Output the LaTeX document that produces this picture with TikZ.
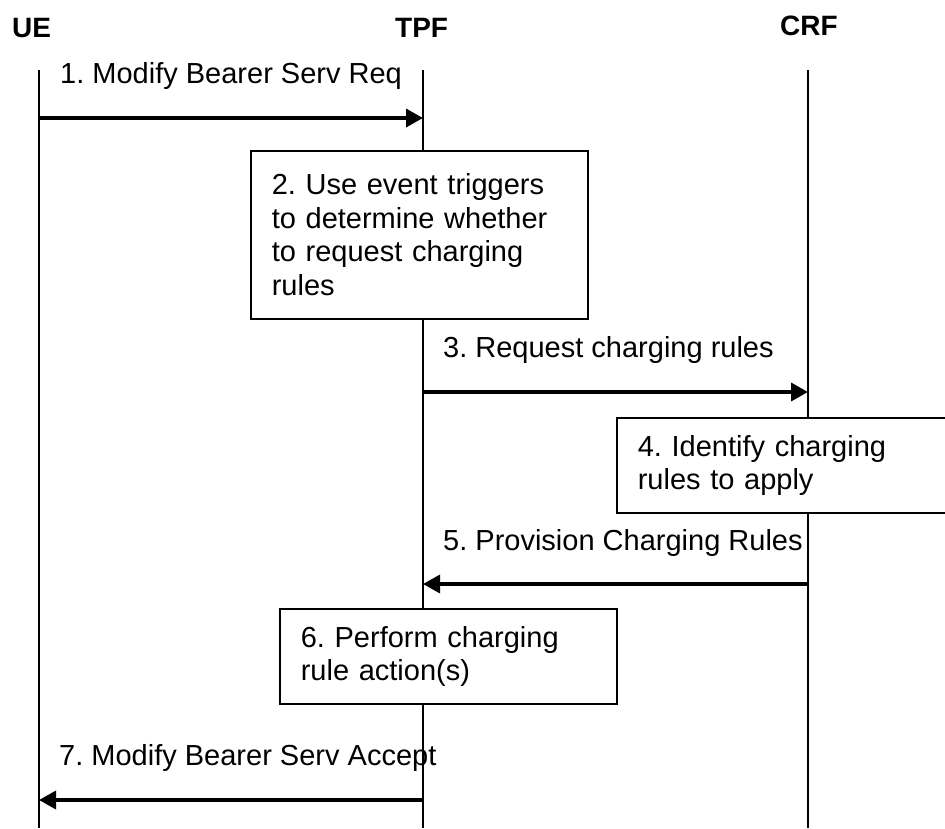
\documentclass[tikz,border=0pt]{standalone}
\usepackage{fontspec}
\setmainfont{Liberation Sans}
\usetikzlibrary{arrows.meta}
\frenchspacing

\begin{document}
\begin{tikzpicture}[x=1pt, y=-1pt,
    entity/.style={anchor=base west, inner sep=0pt, font=\fontsize{28}{32}\selectfont\bfseries},
    msglabel/.style={anchor=base west, inner sep=0pt, font=\fontsize{29}{33}\selectfont},
    lifeline/.style={line width=1.6pt},
    msg/.style={line width=3.4pt, -{Triangle[length=17pt,width=18pt]}},
    stepbox/.style={draw, line width=1.6pt, fill=white, anchor=north west, align=left,
      inner xsep=21pt, inner ysep=0pt, font=\fontsize{29}{33.5}\selectfont}]
      \useasboundingbox (0,0) rectangle (945,828);
      \clip (0,0) rectangle (945,828);

      % Entidades
      \node[entity] (UE) at (12,37) {UE};
      \node[entity] (TPF) at (395,37) {TPF};
      \node[entity] (CRF) at (780,35) {CRF};

      % Linhas de vida
      \coordinate (ue top) at (39,70);
      \coordinate (ue bot) at (39,828);
      \coordinate (tpf top) at (423,70);
      \coordinate (tpf bot) at (423,828);
      \coordinate (crf top) at (808,70);
      \coordinate (crf bot) at (808,828);
      \draw[lifeline] (ue top) -- (ue bot);
      \draw[lifeline] (tpf top) -- (tpf bot);
      \draw[lifeline] (crf top) -- (crf bot);

      % Pontos das mensagens
      \coordinate (ue1) at (39,118);
      \coordinate (tpf1) at (423,118);
      \coordinate (tpf3) at (423,392);
      \coordinate (crf3) at (808,392);
      \coordinate (crf5) at (808,584);
      \coordinate (tpf5) at (423,584);
      \coordinate (tpf7) at (423,800);
      \coordinate (ue7) at (39,800);

      % Mensagens
      \node[msglabel] (m1) at (60,83) {1. Modify Bearer Serv Req};
      \draw[msg] (ue1) -- (tpf1);
      \node[msglabel] (m3) at (443,357) {3. Request charging rules};
      \draw[msg] (tpf3) -- (crf3);
      \node[msglabel] (m5) at (443,550) {5. Provision Charging Rules};
      \draw[msg] (crf5) -- (tpf5);
      \node[msglabel] (m7) at (59,765) {7. Modify Bearer Serv Accept};
      \draw[msg] (tpf7) -- (ue7);

      % Acoes locais
      \node[stepbox, text width=295pt, minimum height=168pt] (s2) at (250,150)
        {2. Use event triggers\\to determine whether\\to request charging\\rules};
      \node[stepbox, text width=320pt, minimum height=95pt] (s4) at (616,417)
        {4. Identify charging\\rules to apply};
      \node[stepbox, text width=295pt, minimum height=95pt] (s6) at (279,608)
        {6. Perform charging\\rule action(s)};
    \end{tikzpicture}
\end{document}
